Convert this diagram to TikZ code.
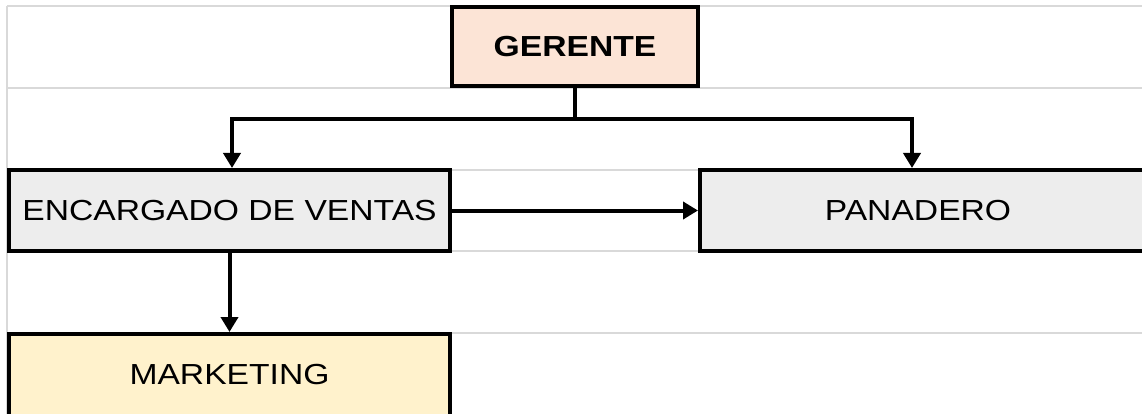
\documentclass[tikz,border=0pt]{standalone}
\usepackage{fontspec}
\setmainfont{Liberation Sans}[FakeStretch=1.16]
\usetikzlibrary{arrows.meta}
\definecolor{gridgray}{HTML}{D9D9D9}
\definecolor{peach}{HTML}{FCE4D6}
\definecolor{lightgray}{HTML}{EDEDED}
\definecolor{paleyellow}{HTML}{FFF2CC}
\tikzset{
  orgbox/.style={draw=black, line width=4pt, rectangle, inner sep=0pt,
    font=\fontsize{29}{34}\selectfont},
  link/.style={line width=4pt},
  arr/.style={link, -{Triangle[length=15pt,width=17pt]}},
  gridline/.style={gridgray, line width=2pt}
}
\begin{document}
\begin{tikzpicture}[x=1pt, y=-1pt]
  \useasboundingbox (0,0) rectangle (1142,414);
  \clip (0,0) rectangle (1142,414);
  % sheet grid
  \foreach \gy in {6,88,170,251,333}
    \draw[gridline] (7,\gy) -- (1142,\gy);
  \draw[gridline] (7,6) -- (7,414);
  % boxes
  \node[orgbox, fill=peach, minimum width=246pt, minimum height=79pt,
        font=\fontsize{29}{34}\selectfont\bfseries] (ger) at (575,46.5) {GERENTE};
  \node[orgbox, fill=lightgray, minimum width=441pt, minimum height=81pt] (enc) at (229.5,210.5) {ENCARGADO DE VENTAS};
  \node[orgbox, fill=lightgray, minimum width=460pt, minimum height=81pt] (pan) at (930,210.5) {PANADERO\hspace*{24pt}};
  \node[orgbox, fill=paleyellow, minimum width=441pt, minimum height=82pt] (mkt) at (229.5,375) {MARKETING};
  % connectors
  \coordinate (split) at (575,119.5);
  \draw[link] (ger.south) -- (split);
  \draw[arr] (split) -| ([xshift=2.5pt]enc.north);
  \draw[arr] (split) -| ([xshift=-18pt]pan.north);
  \draw[arr] (enc.east) -- (pan.west);
  \draw[arr] (enc.south) -- (mkt.north);
\end{tikzpicture}
\end{document}
